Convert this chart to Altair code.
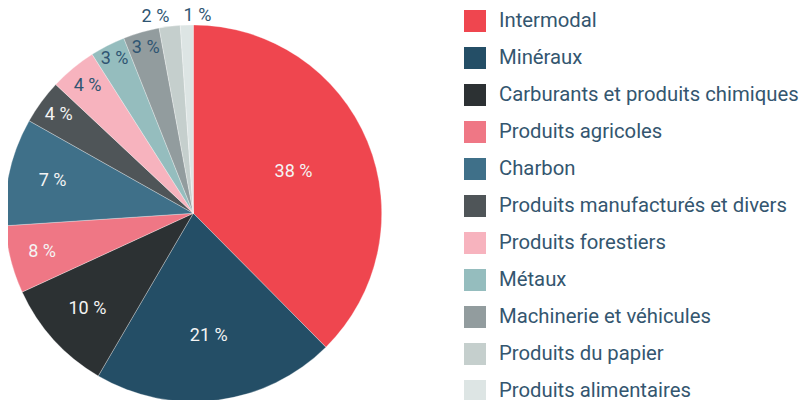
import altair as alt
import pandas as pd

categories = [
    "Intermodal",
    "Minéraux",
    "Carburants et produits chimiques",
    "Produits agricoles",
    "Charbon",
    "Produits manufacturés et divers",
    "Produits forestiers",
    "Métaux",
    "Machinerie et véhicules",
    "Produits du papier",
    "Produits alimentaires",
]
# slice sizes as drawn in the reference (measured angles, in %)
shares = [37.5, 20.8, 9.7, 5.8, 9.2, 3.8, 4.0, 3.0, 3.1, 1.8, 1.1]
# label texts shown on the slices
labels = ["38 %", "21 %", "10 %", "8 %", "7 %", "4 %", "4 %", "3 %", "3 %", "2 %", "1 %"]
colors = ["#EF464F", "#244E66", "#2C3133", "#EF7785", "#3F7089", "#4F5558",
          "#F7B3BE", "#95BDBE", "#929C9E", "#C5CFCD", "#DDE5E4"]

R = 188.4
CX, CY = 185.3, 205.3

df = pd.DataFrame({"cat": categories, "share": shares, "label": labels,
                   "idx": list(range(len(categories)))})

pie = alt.Chart(df).mark_arc(outerRadius=R, stroke="#ffffff", strokeWidth=0.3).encode(
    theta=alt.Theta("share:Q", stack=True),
    order=alt.Order("idx:Q", sort="ascending"),
    x=alt.value(CX),
    y=alt.value(CY),
    color=alt.Color(
        "cat:N",
        scale=alt.Scale(domain=categories, range=colors),
        sort=categories,
        legend=alt.Legend(
            title=None,
            orient="none",
            legendX=456,
            legendY=2,
            symbolType="square",
            symbolSize=484,
            symbolStrokeWidth=0,
            labelFont="Roboto",
            labelFontSize=20.3,
            labelColor="#34566F",
            labelOffset=13,
            rowPadding=15,
            labelLimit=400,
        ),
    ),
)

text_base = alt.Chart(df).transform_window(
    cum="sum(share)", sort=[alt.SortField("idx", order="ascending")],
    frame=[None, 0],
).transform_calculate(
    mid="datum.cum - datum.share / 2",
    lr=f"datum.share < 2.5 ? {R} + 9.5 : {R} - (25.6 * log(datum.share) - 12.7)",
)

def label_layer(flt, dx=0):
    return text_base.transform_filter(flt).mark_text(
        font="Roboto", fontSize=18, baseline="middle", align="center", dx=dx
    ).encode(
        theta=alt.Theta("mid:Q", stack=None),
        radius=alt.Radius("lr:Q", scale=None),
        x=alt.value(CX),
        y=alt.value(CY),
        text="label:N",
        color=alt.condition("datum.idx >= 6", alt.value("#2F5572"), alt.value("#F4F4F4")),
    )

inside = label_layer("datum.share >= 2.5")
out_left = label_layer("datum.idx == 9", dx=-13)
out_right = label_layer("datum.idx == 10", dx=11)

chart = alt.layer(pie, inside, out_left, out_right).properties(
    width=793, height=392, padding=0, autosize=alt.AutoSizeParams(type="none")
).configure_view(stroke=None)

chart.save("out.html", embed_options={"renderer": "svg", "actions": False})
